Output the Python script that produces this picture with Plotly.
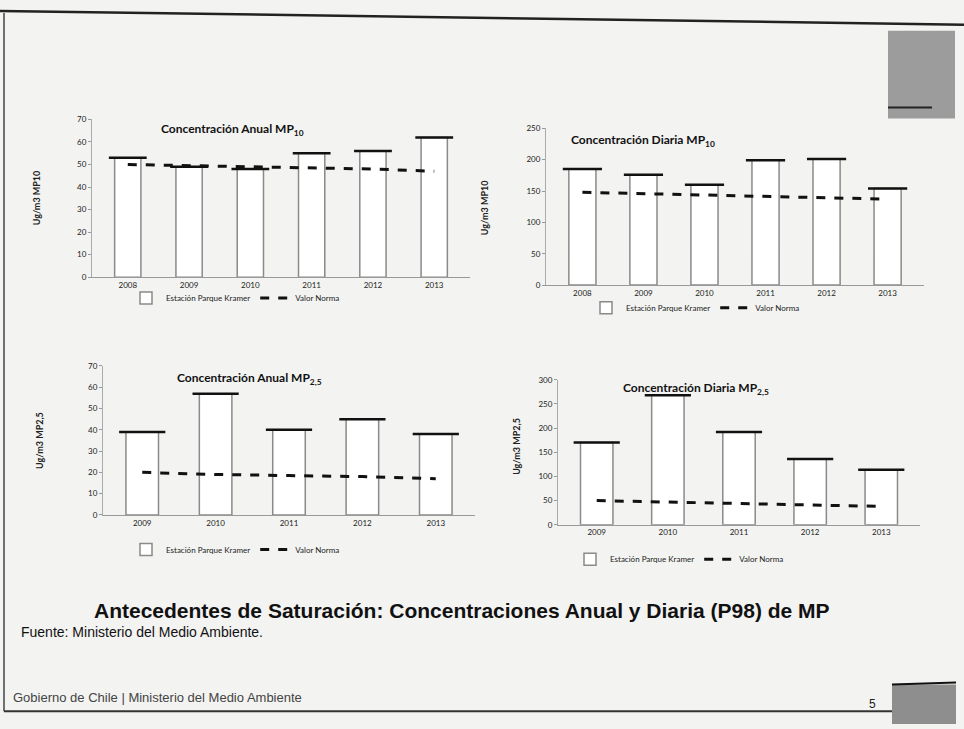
import plotly.graph_objects as go

W, H = 964, 729

# ---------------- data ----------------
years_mp10 = ["2008", "2009", "2010", "2011", "2012", "2013"]
anual_mp10 = [53, 49, 48, 55, 56, 62]
anual_mp10_norma = [50, 49.5, 49, 48.5, 48, 47]

diaria_mp10 = [185, 176, 160, 199, 201, 154]
diaria_mp10_norma = [148, 146, 144, 142, 140, 137]

years_mp25 = ["2009", "2010", "2011", "2012", "2013"]
anual_mp25 = [39, 57, 40, 45, 38]
anual_mp25_norma = [20, 19, 18.5, 18, 17]

diaria_mp25 = [170, 268, 192, 136, 114]
diaria_mp25_norma = [50, 47, 44, 40, 38]

titles = ["Concentración Anual MP<sub>10</sub>", "Concentración Diaria MP<sub>10</sub>",
          "Concentración Anual MP<sub>2,5</sub>", "Concentración Diaria MP<sub>2,5</sub>"]
ytitles = ["Ug/m3 MP10", "Ug/m3 MP10", "Ug/m3 MP2,5", "Ug/m3 MP2,5"]
bar_name = "Estación Parque Kramer"
line_name = "Valor Norma"

# ---------------- layout helpers (pixel boxes) ----------------
def fx(px):
    return px / W

def fy(py):
    return 1 - py / H

panels = [
    # (years, bars, norma, x0, x1, ybottom_px, ytop_px, ymax, dtick, barwidth_px, title_xy, ytitle_xy, legend_xy)
    (years_mp10, anual_mp10, anual_mp10_norma, 92, 470, 276, 116, 70, 10, 27, (232, 126), (36, 196), (126, 297)),
    (years_mp10, diaria_mp10, diaria_mp10_norma, 546, 924, 284, 125, 250, 50, 28, (643, 137), (484, 206), (586, 307)),
    (years_mp25, anual_mp25, anual_mp25_norma, 103, 475, 517, 366, 70, 10, 33, (249, 379), (40, 442), (126, 552)),
    (years_mp25, diaria_mp25, diaria_mp25_norma, 558, 920, 527, 380, 300, 50, 33, (696, 389), (517, 448), (570, 562)),
]

fig = go.Figure()
layout = {}
annotations = []
shapes = []
chart_font = "Lato"

for i, (yrs, vals, norm, x0, x1, yb, yt, ymax, dt, bw, txy, ytxy, lxy) in enumerate(panels):
    k = "" if i == 0 else str(i + 1)
    xa, ya = "x" + k, "y" + k
    leg = "legend" + k
    catw = (x1 - x0) / len(yrs)
    wfrac = bw / catw
    fig.add_trace(go.Bar(
        x=yrs, y=vals, xaxis=xa, yaxis=ya, name=bar_name, legend=leg,
        width=wfrac, marker=dict(color="white", line=dict(color="#8a8a8a", width=1.5)),
    ))
    fig.add_trace(go.Scatter(
        x=yrs, y=vals, xaxis=xa, yaxis=ya, mode="markers", showlegend=False,
        marker=dict(symbol="line-ew", size=bw, line=dict(color="#111", width=2.5)),
        hoverinfo="skip",
    ))
    fig.add_trace(go.Scatter(
        x=yrs, y=norm, xaxis=xa, yaxis=ya, mode="lines", name=line_name, legend=leg,
        line=dict(color="#111", width=3, dash="dash"),
    ))
    layout["xaxis" + k] = dict(
        domain=[fx(x0), fx(x1)], anchor=ya, showgrid=False, showline=True,
        linecolor="#999", linewidth=1, ticks="", ticklabelstandoff=0,
        tickfont=dict(size=8, color="#222", family=chart_font),
        fixedrange=True,
    )
    layout["yaxis" + k] = dict(
        domain=[fy(yb), fy(yt)], anchor=xa, range=[0, ymax], dtick=dt, showgrid=False,
        showline=True, linecolor="#aaa", linewidth=1, ticks="outside", ticklen=3,
        tickcolor="#999", tickfont=dict(size=8, color="#222", family=chart_font),
        zeroline=False,
    )
    layout[leg] = dict(
        orientation="h", x=fx(lxy[0]), y=fy(lxy[1]), xanchor="left", yanchor="middle",
        bgcolor="rgba(0,0,0,0)", font=dict(size=8, color="#222", family=chart_font),
        itemwidth=30, tracegroupgap=0,
    )
    annotations.append(dict(
        text="<b>" + titles[i] + "</b>", x=fx(txy[0]), y=fy(txy[1]), xref="paper", yref="paper",
        xanchor="center", yanchor="middle",
        showarrow=False, font=dict(size=12, color="#111", family=chart_font),
    ))
    annotations.append(dict(
        text="<b>" + ytitles[i] + "</b>", x=fx(ytxy[0]), y=fy(ytxy[1]), xref="paper", yref="paper",
        xanchor="center", yanchor="middle",
        showarrow=False, textangle=-90, font=dict(size=9, color="#222", family=chart_font),
    ))

# slide texts
annotations += [
    dict(text="<b>Antecedentes de Saturación: Concentraciones Anual y Diaria (P98) de MP</b>",
         x=fx(462), y=fy(614), xref="paper", yref="paper", xanchor="center", yanchor="middle",
         showarrow=False, font=dict(size=21, color="#111", family="Liberation Sans")),
    dict(text="Fuente: Ministerio del Medio Ambiente.", x=fx(19), y=fy(636), xref="paper", yref="paper",
         xanchor="left", yanchor="middle", showarrow=False,
         font=dict(size=14, color="#111", family="Liberation Sans")),
    dict(text="Gobierno de Chile | Ministerio del Medio Ambiente", x=fx(11), y=fy(702), xref="paper",
         yref="paper", xanchor="left", yanchor="middle", showarrow=False,
         font=dict(size=13, color="#444", family="Liberation Sans")),
    dict(text="5", x=fx(872), y=fy(709), xref="paper", yref="paper", xanchor="center", yanchor="middle",
         showarrow=False, font=dict(size=12, color="#222", family="Liberation Sans")),
]

# slide frame and decorative squares
shapes += [
    dict(type="line", xref="paper", yref="paper", x0=0, y0=fy(6), x1=1, y1=fy(20), line=dict(color="#222", width=2.5)),
    dict(type="line", xref="paper", yref="paper", x0=fx(4), y0=fy(8), x1=fx(4), y1=fy(716), line=dict(color="#444", width=1.5)),
    dict(type="line", xref="paper", yref="paper", x0=fx(4), y0=fy(716), x1=fx(893), y1=fy(716), line=dict(color="#333", width=2)),
    dict(type="rect", xref="paper", yref="paper", x0=fx(888), y0=fy(26), x1=fx(955), y1=fy(115),
         fillcolor="#9c9c9c", line=dict(width=0)),
    dict(type="line", xref="paper", yref="paper", x0=fx(888), y0=fy(104), x1=fx(932), y1=fy(104), line=dict(color="#222", width=2)),
    dict(type="rect", xref="paper", yref="paper", x0=fx(892), y0=fy(689), x1=fx(956), y1=fy(729),
         fillcolor="#8e8e8e", line=dict(width=0)),
    dict(type="line", xref="paper", yref="paper", x0=fx(892), y0=fy(689), x1=fx(956), y1=fy(687), line=dict(color="#111", width=2)),
]

fig.update_layout(
    width=W, height=H, margin=dict(l=0, r=0, t=0, b=0),
    paper_bgcolor="#f3f3f1", plot_bgcolor="rgba(0,0,0,0)",
    annotations=annotations, shapes=shapes, showlegend=True,
    **layout,
)

fig.write_html(
    "out.html", config={"displayModeBar": False},
    post_script="document.body.style.margin='0';document.body.style.overflow='hidden';",
)
